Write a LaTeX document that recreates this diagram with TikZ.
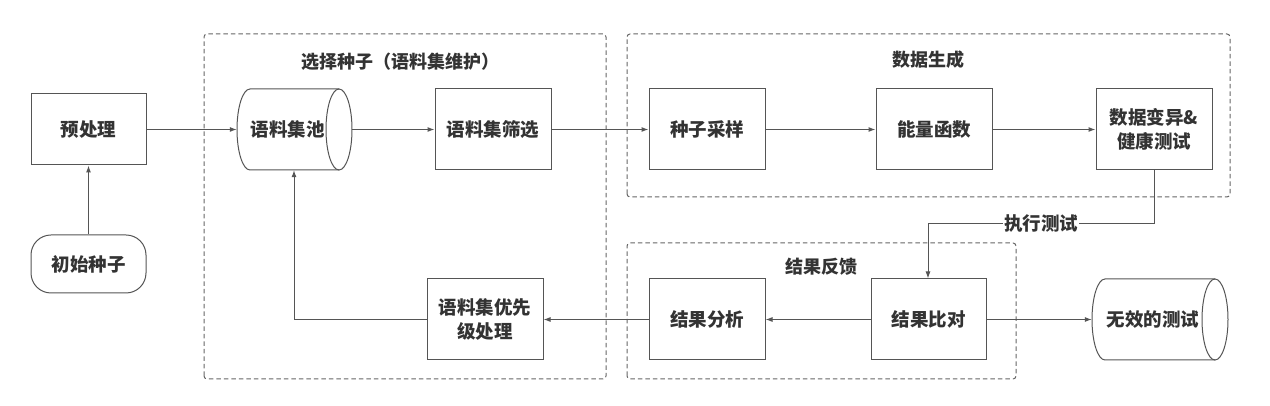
\documentclass[tikz,border=0pt]{standalone}
\usepackage{fontspec}
\setmainfont{Noto Sans CJK SC}
\usetikzlibrary{arrows.meta,positioning,calc}
\definecolor{ln}{HTML}{555555}
\definecolor{gl}{HTML}{666666}
\definecolor{tx}{HTML}{333333}
\begin{document}
\begin{tikzpicture}[x=1pt,y=1pt,
  every node/.style={font=\fontsize{18.5}{23.5}\selectfont\bfseries, text=tx, align=center},
  box/.style={draw=ln, line width=1pt, minimum width=115pt, minimum height=81pt, inner sep=0pt},
  cyl/.style={minimum height=81pt, inner sep=0pt},
  grp/.style={draw=gl, line width=1pt, dash pattern=on 4.5pt off 3pt, rounded corners=3pt},
  conn/.style={draw=ln, line width=1pt, -{Latex[length=7pt,width=5pt]}},
  ttl/.style={font=\fontsize{18}{21}\selectfont\bfseries}]
\useasboundingbox (0,0) rectangle (1270,406);
% groups
\draw[grp] (204,27) rectangle (606,372);
\draw[grp] (627,209) rectangle (1230,372);
\draw[grp] (627,27) rectangle (1016,163);
\node[ttl] (t1) at (400,344) {选择种子（语料集维护）};
\node[ttl] (t2) at (928,346) {数据生成};
\node[ttl] (t3) at (821,139) {结果反馈};
% nodes
\node[box, minimum height=71pt] (pre) at (88.5,276.5) {预处理};
\node[draw=ln, line width=1pt, rounded corners=20pt, minimum width=115pt, minimum height=58pt] (seed) at (88.5,142) {初始种子};
\node[cyl, minimum width=115pt] (pool) at (294.5,276.5) {\hspace*{-14pt}语料集池};
\draw[ln, line width=1pt] (339,317) -- (250,317) arc (90:270:13 and 40.5) -- (339,236);
\draw[ln, line width=1pt] (339,276.5) ellipse (13 and 40.5);
\node[box, minimum width=116pt] (filter) at (493,276.5) {语料集筛选};
\node[box, minimum width=116pt] (sample) at (707,276.5) {种子采样};
\node[box, minimum width=116pt] (energy) at (934,276.5) {能量函数};
\node[box, minimum width=116pt] (mut) at (1154,276.5) {数据变异\&\\健康测试};
\node[box, minimum width=116pt] (prio) at (485,86.5) {语料集优先\\级处理};
\node[box, minimum width=116pt] (ana) at (707,86.5) {结果分析};
\node[box, minimum width=115pt] (cmp) at (928.5,86.5) {结果比对};
\node[cyl, minimum width=136pt] (inv) at (1160,86.5) {\hspace*{-14pt}无效的测试};
\draw[ln, line width=1pt] (1215,127) -- (1105,127) arc (90:270:13 and 40.5) -- (1215,46);
\draw[ln, line width=1pt] (1215,86.5) ellipse (13 and 40.5);
% connectors
\coordinate (b1) at (1154,182);
\coordinate (b2) at (928,182);
\coordinate (f1) at (294,86.5);
\draw[conn] (seed) -- (pre);
\draw[conn] (pre.east) -- (pool.west);
\draw[conn] (pool.east) -- (filter.west);
\draw[conn] (filter) -- (sample);
\draw[conn] (sample) -- (energy);
\draw[conn] (energy) -- (mut);
\draw[conn] (mut.south) -- (b1) -- (b2) -- (b2 |- cmp.north);
\node[fill=white, inner sep=1pt] (lbl) at (1041,182) {执行测试};
\draw[conn] (cmp) -- (ana);
\draw[conn] (ana) -- (prio);
\draw[conn] (cmp.east) -- (inv.west);
\draw[conn] (prio.west) -- (f1) -- (f1 |- pool.south);
\end{tikzpicture}
\end{document}
